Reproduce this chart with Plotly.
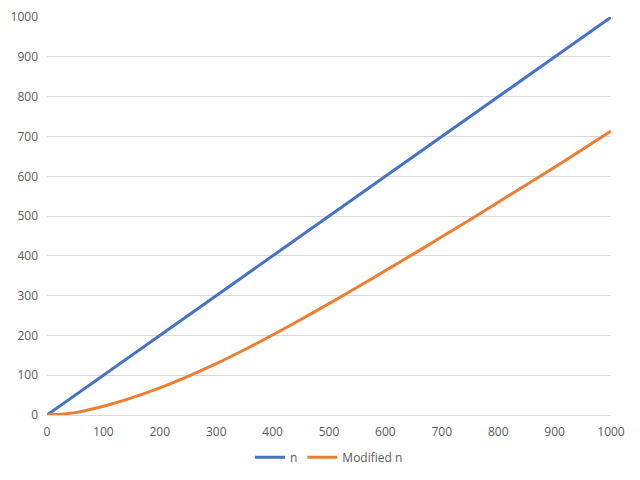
import plotly.graph_objects as go

x_vals = [0, 50, 100, 150, 200, 250, 300, 350, 400, 450, 500, 550, 600, 650, 700, 750, 800, 850, 900, 950, 1000]
n_vals = [0, 50, 100, 150, 200, 250, 300, 350, 400, 450, 500, 550, 600, 650, 700, 750, 800, 850, 900, 950, 1000]
mod_vals = [0, 6, 22, 43, 68, 97, 129, 164, 201, 240, 280, 321, 363, 405, 448, 491, 535, 579, 623, 668, 714]

fig = go.Figure()
fig.add_trace(go.Scatter(x=x_vals, y=n_vals, mode="lines", name="n",
                         line=dict(color="#4472C4", width=3)))
fig.add_trace(go.Scatter(x=x_vals, y=mod_vals, mode="lines", name="Modified n",
                         line=dict(color="#ED7D31", width=3, shape="spline", smoothing=0.8)))

fig.update_layout(
    width=640, height=480,
    margin=dict(l=39, r=37, t=9, b=73, autoexpand=False),
    paper_bgcolor="white", plot_bgcolor="white",
    font=dict(family="Open Sans", size=12, color="#595959"),
    showlegend=True,
    legend=dict(orientation="h", x=0.5, xanchor="center", y=-0.07, yanchor="top",
                font=dict(size=12, color="#595959")),
    xaxis=dict(range=[0, 1000], dtick=100, showgrid=False, zeroline=False,
               showline=True, linecolor="#d9d9d9", linewidth=1, ticks="",
               ticklabelstandoff=6, automargin=False, ticklabeloverflow="allow",
               tickfont=dict(size=12, color="#595959")),
    yaxis=dict(range=[0, 1000.5], tick0=0, dtick=100, showgrid=True, gridcolor="#d9d9d9",
               gridwidth=1, zeroline=False, showline=False, ticks="",
               ticklabelstandoff=8, automargin=False, ticklabeloverflow="allow",
               tickfont=dict(size=12, color="#595959")),
)

fig.write_html("out.html")
